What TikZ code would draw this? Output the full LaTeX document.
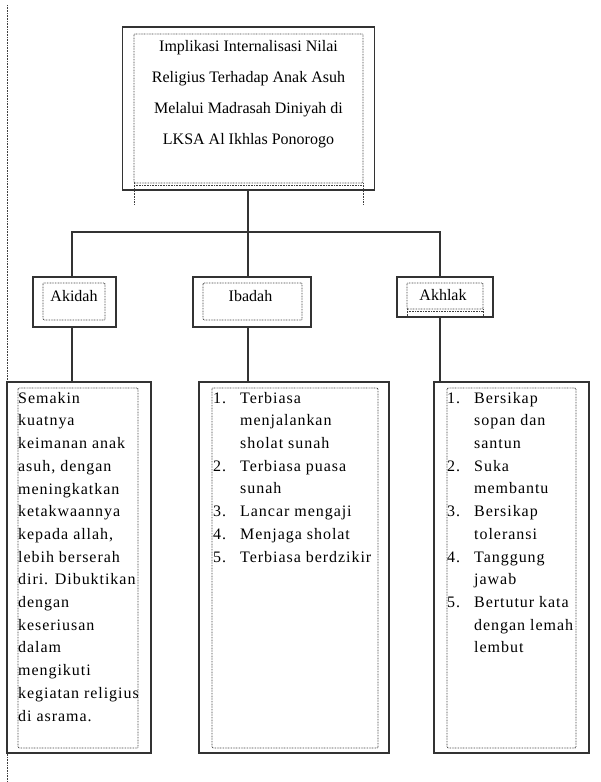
\documentclass[tikz,border=0pt]{standalone}
\usepackage{fontspec}
\setmainfont{Liberation Serif}
\newfontfamily\bodyfont[LetterSpace=6]{Liberation Serif}
\begin{document}
\begin{tikzpicture}[x=1pt,y=-1pt,
  solidbox/.style={draw=black!80,line width=1.6pt,minimum width=#1,inner sep=0pt},
  conn/.style={draw=black!80,line width=1.5pt},
  dotline/.style={draw=black!75,line width=0.8pt,dash pattern=on 0.8pt off 0.8pt},
  titlefont/.style={font=\fontsize{16}{31}\selectfont},
  labelfont/.style={font=\fontsize{16}{19}\selectfont},
  bodytext/.style={font=\fontsize{16}{22.7}\bodyfont,align=left,inner sep=0pt,anchor=north west},
]
\useasboundingbox (0,0) rectangle (601,782);
% left margin guide
\coordinate (mtop) at (7,5);
\coordinate (mbot) at (7,782);
\draw[dotline] (mtop) -- (mbot);

% outer boxes
\node[solidbox=252pt,minimum height=163pt] (title) at (248.5,108.5) {};
\node[solidbox=83pt,minimum height=50pt] (akidah) at (74.5,302) {};
\node[solidbox=118pt,minimum height=50pt] (ibadah) at (252,302) {};
\node[solidbox=96pt,minimum height=40pt] (akhlak) at (445,297) {};
\node[solidbox=144pt,minimum height=371pt] (desca) at (79,567.5) {};
\node[solidbox=190pt,minimum height=371pt] (descb) at (294,567.5) {};
\node[solidbox=155pt,minimum height=371pt] (descc) at (511.5,567.5) {};

% inner dotted frames
\draw[dotline,rounded corners=1pt] (134,34) rectangle (363,183);
\draw[dotline] (134,185) -- (363,185);
\draw[dotline] (134,183) -- (134,205);
\draw[dotline] (363,183) -- (363,205);
\draw[dotline,rounded corners=1pt] (43,283) rectangle (105,320);
\draw[dotline,rounded corners=1pt] (203,283) rectangle (302,320);
\draw[dotline,rounded corners=1pt] (407,283) rectangle (483,309);
\draw[dotline] (407,311) -- (483,311);
\draw[dotline] (407,309) -- (407,317);
\draw[dotline] (483,309) -- (483,317);
\draw[dotline,rounded corners=1pt] (18,388) rectangle (138,748);
\draw[dotline,rounded corners=1pt] (212,388) rectangle (378,748);
\draw[dotline,rounded corners=1pt] (447,388) rectangle (576,748);

% texts
\node[titlefont,align=center,inner sep=0pt,anchor=north] (titletext) at (248.5,29.3)
  {\strut Implikasi Internalisasi Nilai\\
   \strut Religius Terhadap Anak Asuh\\
   \strut Melalui Madrasah Diniyah di\\
   \strut LKSA Al Ikhlas Ponorogo};
\node[labelfont,inner sep=0pt,anchor=base] (akidahtext) at (74,301) {Akidah};
\node[labelfont,inner sep=0pt,anchor=base] (ibadahtext) at (250.5,301) {Ibadah};
\node[labelfont,inner sep=0pt,anchor=base] (akhlaktext) at (443,300) {Akhlak};

\node[bodytext] (descatext) at (18,387.1)
  {\strut Semakin\\
   \strut kuatnya\\
   \strut keimanan anak\\
   \strut asuh, dengan\\
   \strut meningkatkan\\
   \strut ketakwaannya\\
   \strut kepada allah,\\
   \strut lebih berserah\\
   \strut diri. Dibuktikan\\
   \strut dengan\\
   \strut keseriusan\\
   \strut dalam\\
   \strut mengikuti\\
   \strut kegiatan religius\\
   \strut di asrama.};
\newcommand{\itemnum}[1]{\makebox[27pt][l]{#1}}
\newcommand{\itemcont}{\hspace*{27pt}}
\node[bodytext] (descbtext) at (213,387.1)
  {\strut\itemnum{1.}Terbiasa\\
   \strut\itemcont menjalankan\\
   \strut\itemcont sholat sunah\\
   \strut\itemnum{2.}Terbiasa puasa\\
   \strut\itemcont sunah\\
   \strut\itemnum{3.}Lancar mengaji\\
   \strut\itemnum{4.}Menjaga sholat\\
   \strut\itemnum{5.}Terbiasa berdzikir};
\node[bodytext] (descctext) at (447,387.1)
  {\strut\itemnum{1.}Bersikap\\
   \strut\itemcont sopan dan\\
   \strut\itemcont santun\\
   \strut\itemnum{2.}Suka\\
   \strut\itemcont membantu\\
   \strut\itemnum{3.}Bersikap\\
   \strut\itemcont toleransi\\
   \strut\itemnum{4.}Tanggung\\
   \strut\itemcont jawab\\
   \strut\itemnum{5.}Bertutur kata\\
   \strut\itemcont dengan lemah\\
   \strut\itemcont lembut};

% connectors
\coordinate (bus) at (248,232);
\draw[conn] ([xshift=-0.5pt]title.south) -- ([xshift=-0.5pt]title.south |- ibadah.north);
\draw[conn] ([xshift=-2.5pt]akidah.north) |- (bus) -| ([xshift=-5pt]akhlak.north);
\draw[conn] ([xshift=-2.5pt]akidah.south) -- ([xshift=-2.5pt]akidah.south |- desca.north);
\draw[conn] ([xshift=-4pt]ibadah.south) -- ([xshift=-4pt]ibadah.south |- descb.north);
\draw[conn] ([xshift=-5pt]akhlak.south) -- ([xshift=-5pt]akhlak.south |- descc.north);
\end{tikzpicture}
\end{document}
